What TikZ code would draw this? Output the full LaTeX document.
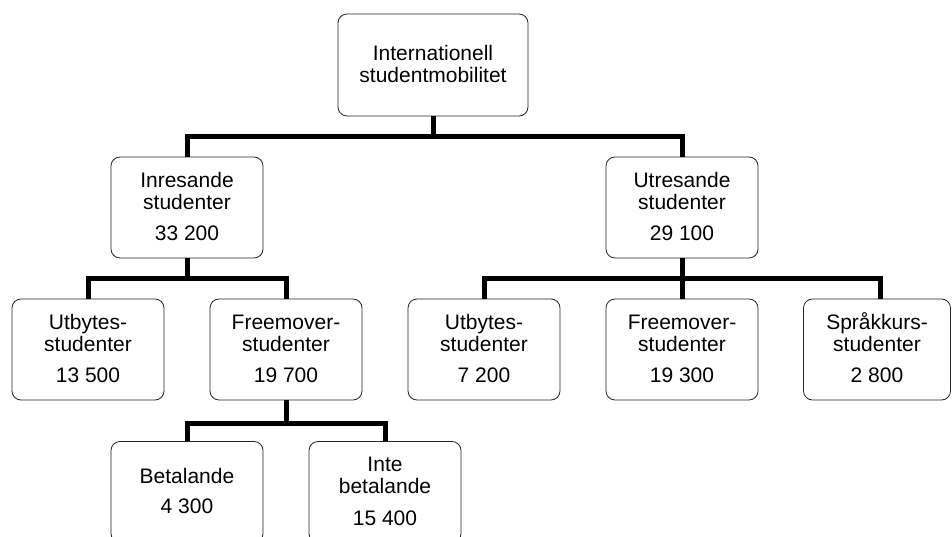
\documentclass[tikz,border=0pt]{standalone}
\usepackage{fontspec}
\setmainfont{Liberation Sans}
\usetikzlibrary{calc}
\newcommand\stl{\rule[-3.5pt]{0pt}{20pt}}
\begin{document}
\begin{tikzpicture}[x=1pt,y=-1pt,
  box/.style={draw=black!85, line width=0.8pt, rounded corners=9pt, fill=white,
    minimum width=152pt, minimum height=101pt, inner sep=0pt, align=center,
    font=\fontsize{21pt}{21.5pt}\selectfont},
  conn/.style={line width=5pt, draw=black}]
\useasboundingbox (0,0) rectangle (952,537);
\clip (0,0) rectangle (952,537);
\node[box, minimum width=190pt, minimum height=102pt] (top) at (433,65) {\stl Internationell\\\stl studentmobilitet};
\node[box] (inr) at (187,207.5) {\stl Inresande\\\stl studenter\\[9.5pt]\stl 33 200};
\node[box] (utr) at (682,207.5) {\stl Utresande\\\stl studenter\\[9.5pt]\stl 29 100};
\node[box] (utb1) at (88,349.5) {\stl Utbytes-\\\stl studenter\\[9.5pt]\stl 13 500};
\node[box] (free1) at (286,349.5) {\stl Freemover-\\\stl studenter\\[9.5pt]\stl 19 700};
\node[box] (utb2) at (484,349.5) {\stl Utbytes-\\\stl studenter\\[9.5pt]\stl 7 200};
\node[box] (free2) at (682,349.5) {\stl Freemover-\\\stl studenter\\[9.5pt]\stl 19 300};
\node[box, minimum width=147pt] (spr) at (877,349.5) {\stl Språkkurs-\\\stl studenter\\[9.5pt]\stl 2 800};
\node[box] (bet) at (187,492) {\stl Betalande\\[8.5pt]\stl 4 300};
\node[box] (inte) at (385,492) {\stl Inte\\\stl betalande\\[10.5pt]\stl 15 400};
% connectors
\coordinate (b0) at ($(top.south)+(0,20)$);
\draw[conn] (top.south) -- (b0);
\draw[conn] (inr.north) |- (b0) -| (utr.north);
\coordinate (b1) at ($(inr.south)+(0,20)$);
\draw[conn] (inr.south) -- (b1);
\draw[conn] (utb1.north) |- (b1) -| (free1.north);
\coordinate (b2) at ($(utr.south)+(0,20)$);
\draw[conn] (utr.south) -- (b2);
\coordinate (sprtop) at ($(spr.north)+(3,0)$);
\draw[conn] (utb2.north) |- (b2) -| (sprtop);
\draw[conn] (b2) -- (free2.north);
\coordinate (b3) at ($(free1.south)+(0,23)$);
\draw[conn] (free1.south) -- (b3);
\draw[conn] (bet.north) |- (b3) -| (inte.north);
\end{tikzpicture}
\end{document}
